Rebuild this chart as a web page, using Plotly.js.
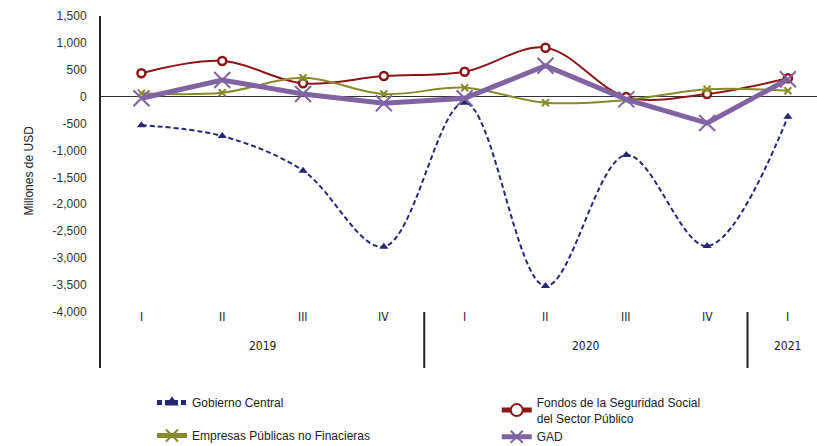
<!DOCTYPE html>
<html>
<head>
<meta charset="utf-8">
<script src="https://cdn.plot.ly/plotly-3.0.1.min.js"></script>
<style>html,body{margin:0;padding:0;background:#fff;}#chart{width:817px;height:446px;}</style>
</head>
<body>
<div id="chart"></div>
<script>
const quarters = ['I','II','III','IV','I','II','III','IV','I'];
const years = ['2019','2020','2021'];
const yearSpans = [[0,3],[4,7],[8,8]];
const gobiernoCentral = [-530, -732, -1375, -2788, -111, -3519, -1084, -2775, -372];
const fondosSeguridad = [435, 664, 249, 385, 465, 911, -5, 50, 342];
const empresasPublicas = [63, 74, 353, 50, 167, -112, -61, 137, 112];
const gad = [-30, 310, 50, -123, -30, 576, -50, -490, 323];
const yTicks = [1500, 1000, 500, 0, -500, -1000, -1500, -2000, -2500, -3000, -3500, -4000];
const yTitle = 'Millones de USD';

const idx = quarters.map((_, i) => i);
const fmt = v => v.toLocaleString('en-US');

const traces = [
  {name:'Gobierno Central', legend:'legend', legendgroup:'a', x: idx, y: gobiernoCentral, mode:'lines+markers',
   line:{color:'#262873', width:2, dash:'5px,3px', shape:'spline', smoothing:1},
   marker:{symbol:'triangle-up', size:8, color:'#262873'}},
  {name:'Fondos de la Seguridad Social<br>del Sector Público', legend:'legend2', legendgroup:'b', x: idx, y: fondosSeguridad, mode:'lines+markers',
   line:{color:'#8B1517', width:2, shape:'spline', smoothing:1},
   marker:{symbol:'circle', size:8, color:'#ffffff', line:{color:'#8B1517', width:2.5}}},
  {name:'Empresas Públicas no Finacieras', legend:'legend', legendgroup:'c', x: idx, y: empresasPublicas, mode:'lines+markers',
   line:{color:'#878A2C', width:2, shape:'spline', smoothing:1},
   marker:{symbol:'x-thin-open', size:7, line:{color:'#878A2C', width:2}}},
  {name:'GAD', legend:'legend2', legendgroup:'d', x: idx, y: gad, mode:'lines+markers',
   line:{color:'#8064A2', width:5},
   marker:{symbol:'x-thin-open', size:16, line:{color:'#8064A2', width:2}}}
];

const qY = 0.119, yrY = 0.037, sepTop = 0.159;
const catFont = {family:'Liberation Sans Narrow, DejaVu Sans Condensed, sans-serif', size:12, color:'#222'};
const annotations = [];
quarters.forEach((q, i) => annotations.push({x:i, y:qY, xref:'x', yref:'paper', text:q, showarrow:false, font:catFont}));
years.forEach((yr, k) => annotations.push({x:(yearSpans[k][0]+yearSpans[k][1])/2, y:yrY, xref:'x', yref:'paper', text:yr, showarrow:false, font:catFont}));
annotations.push({x:-0.101, y:0.56, xref:'paper', yref:'paper', xanchor:'center', yanchor:'middle', text:yTitle, textangle:-90, showarrow:false,
  font:{family:'Liberation Sans, Arial, sans-serif', size:12, color:'#222'}});

const shapes = [];
yearSpans.slice(0, -1).forEach(s => shapes.push({type:'line', xref:'x', yref:'paper', x0:s[1]+0.5, x1:s[1]+0.5, y0:0, y1:sepTop,
  line:{color:'#222', width:2}}));

const legendFont = {family:'Liberation Sans, Arial, sans-serif', size:12, color:'#222'};
const layout = {
  width:817, height:446,
  margin:{l:101, r:0, t:16, b:78, autoexpand:false},
  paper_bgcolor:'#fff', plot_bgcolor:'#fff',
  font:{family:'Liberation Sans, Arial, sans-serif', size:12, color:'#333'},
  showlegend:true,
  legend:{xref:'container', yref:'container', x:0.186, xanchor:'left', y:0.130, yanchor:'top',
    font:legendFont, bgcolor:'rgba(0,0,0,0)', tracegroupgap:14, itemsizing:'constant'},
  legend2:{xref:'container', yref:'container', x:0.608, xanchor:'left', y:0.130, yanchor:'top',
    font:legendFont, bgcolor:'rgba(0,0,0,0)', tracegroupgap:0, itemsizing:'constant'},
  xaxis:{range:[-0.5, 8.36], showgrid:false, zeroline:false, showticklabels:false, showline:false, fixedrange:true},
  yaxis:{range:[-5043, 1500], tickvals:yTicks, ticktext:yTicks.map(fmt), showgrid:false,
    zeroline:true, zerolinecolor:'#333', zerolinewidth:1.5,
    showline:true, linecolor:'#222', linewidth:2, ticks:'', ticklabelstandoff:10,
    tickfont:{size:12, color:'#333'}},
  annotations: annotations,
  shapes: shapes
};

Plotly.newPlot('chart', traces, layout, {staticPlot:true, displayModeBar:false});
</script>
</body>
</html>
